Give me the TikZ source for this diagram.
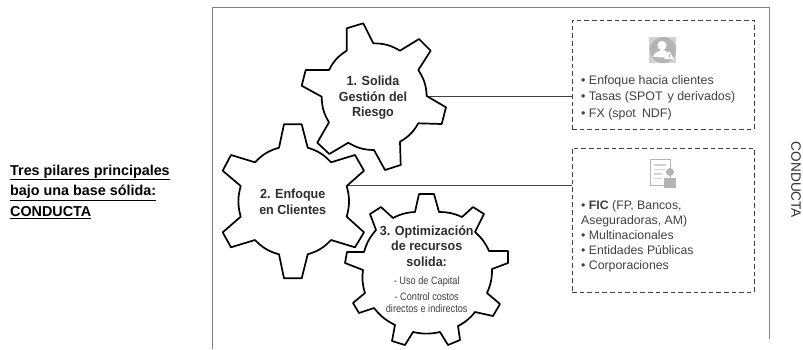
\documentclass[tikz,border=0pt]{standalone}
\usepackage{fontspec}
\setmainfont{Liberation Sans}
\newfontfamily\gearfont[FakeStretch=0.95]{Liberation Sans}
\newfontfamily\thinfont[FakeStretch=0.85]{Liberation Sans}
\definecolor{ink}{HTML}{2E2E2E}
\definecolor{soft}{HTML}{404040}
\definecolor{framegray}{HTML}{808080}
\definecolor{icongray}{HTML}{B4B4B4}
\definecolor{iconlight}{HTML}{D2D2D2}
\tikzset{
  gearline/.style={draw=black,line width=1.7pt,line join=round,fill=white},
  framerule/.style={draw=framegray,line width=1pt},
  dashbox/.style={draw=soft,line width=0.95pt,dash pattern=on 4.6pt off 3pt,minimum width=182pt,inner sep=0pt},
  linker/.style={draw=soft,line width=1pt},
  gearbig/.style={text=ink,font=\gearfont\fontsize{13.2}{15.6}\selectfont\bfseries,align=center,inner sep=0pt},
  gearsmall/.style={text=soft,font=\thinfont\fontsize{10.8}{12}\selectfont,align=center,inner sep=0pt},
  listing/.style={text=soft,align=left,inner sep=0pt,anchor=west},
  a/.style={bend left=15},
  b/.style={bend left=12}
}
\begin{document}
\begin{tikzpicture}[x=1pt,y=-1pt]
\useasboundingbox (0,0) rectangle (803,349);
% frame
\coordinate (fa) at (212,349);
\coordinate (fb) at (212,7.5);
\coordinate (fc) at (769,7.5);
\coordinate (fd) at (769,339);
\draw[framerule] (fa) -- (fb) -- (fc) -- (fd);
% left title
\node[anchor=north west,inner sep=0pt,align=left,text=black,font=\fontsize{14.35}{20.8}\selectfont\bfseries] (title) at (10,164.5)
  {\underline{Tres pilares principales}\\\underline{bajo una base sólida:}\\\underline{CONDUCTA}};
% dashed boxes
\node[dashbox,minimum height=109pt] (b1) at (663,74.5) {};
\node[dashbox,minimum height=144pt] (b2) at (663,220) {};
% connectors
\coordinate (g1p) at (427,96);
\coordinate (g2p) at (347,185.5);
\draw[linker] (g1p) -- (b1.west |- g1p);
\draw[linker] (g2p) -- (b2.west |- g2p);
% gear 1
\draw[gearline] (346.7,28.3) -- (363.3,23.3) -- (373.3,43.3) to[a] (400,50.7) -- (419,39) -- (430.7,50.7) -- (418.3,70)
  to[a] (426.7,96) -- (446,107.3) -- (441.7,124) -- (418.3,123.3)
  to[a] (400,141.7) -- (400.7,165) -- (385,170) -- (374,150)
  to[a] (348.3,142.7) -- (329.3,154) -- (317.3,142.7) -- (329,122.3)
  to[a] (321.7,96.7) -- (301.7,85.7) -- (305.7,70) -- (329,70)
  to[a] (346.7,50.7) -- cycle;
% gear 2
\draw[gearline] (284,124.3) -- (301.7,124.3) -- (307.7,147.7) to[a] (331,162.3) -- (355,155) -- (364,170.7) -- (346.7,186)
  to[a] (346.7,216.7) -- (364,232.3) -- (355,247.3) -- (331,240)
  to[a] (307.7,254.3) -- (301.7,278.3) -- (284,278.3) -- (279,254.3)
  to[a] (255,240) -- (231,247.3) -- (222.7,232.3) -- (240.7,216.7)
  to[a] (240.7,186) -- (222.7,170.7) -- (231,155) -- (255,162.3)
  to[a] (279,147.7) -- cycle;
% gear 3
\draw[gearline] (419,194) -- (434,194) -- (439,212) to[b] (462,217) -- (473,207) -- (484,214) -- (475,232)
  to[b] (489,251) -- (508,251) -- (508,263) -- (492,269)
  to[b] (487,293) -- (500,304) -- (493,316) -- (475,312)
  to[b] (458,326) -- (460,340) -- (448,345) -- (440,332)
  to[b] (413,332) -- (405,345) -- (392,341) -- (395,325)
  to[b] (374,308) -- (359,313) -- (353,303) -- (365,293)
  to[b] (363,270) -- (345,263) -- (347,252) -- (364,252)
  to[b] (376,230) -- (370,214) -- (381,207) -- (393,218)
  to[b] (415,212) -- cycle;
% gear labels
\node[gearbig] (t1) at (373,98) {1. Solida\\Gestión del\\Riesgo};
\node[gearbig] (t2) at (292.7,202) {2. Enfoque\\en Clientes};
\node[gearbig] (t3) at (426.7,246) {3. Optimización\\de recursos\\solida:};
\node[gearsmall] (t4) at (426.7,281.5) {- Uso de Capital};
\node[gearsmall] (t5) at (426.7,302.5) {- Control costos\\directos e indirectos};
% list 1
\node[listing,font=\fontsize{12.4}{16.5}\selectfont] (l1) at (581,97.5)
  {• Enfoque hacia clientes\\• Tasas (SPOT\hspace{0.4em}y derivados)\\• FX (spot\hspace{0.5em}NDF)};
% list 2
\node[listing,font=\fontsize{12.3}{15}\selectfont] (l2) at (581,236)
  {• \textbf{FIC} (FP, Bancos,\\Aseguradoras, AM)\\• Multinacionales\\• Entidades Públicas\\• Corporaciones};
% side label
\node[rotate=-90,inner sep=0pt,text=ink,font=\fontsize{13.6}{16}\selectfont] (side) at (796,180) {CONDUCTA};
% icon 1
\fill[iconlight] (649,37) rectangle (676,63);
\fill[icongray] (663,50) circle (13.2);
\fill[white] (662,45.5) circle (4.6);
\fill[white] (653,57) .. controls (654,52) and (658,52) .. (661,50) -- (664,50) .. controls (666,52) and (668,52) .. (668,53) -- (665,57.5) -- cycle;
\fill[white] (669,51) -- (674,59) -- (664,59) -- cycle;
\fill[icongray] (668.5,54) rectangle (669.5,57);
% icon 2
\draw[icongray,line width=1pt,fill=white] (650.5,159.5) rectangle (670,185);
\draw[iconlight,line width=1.5pt] (654,165) -- (666,165) (654,169.5) -- (666,169.5) (654,174) -- (662,174) (654,178.5) -- (662,178.5);
\fill[icongray] (670,172) circle (4);
\fill[icongray] (664,178) rectangle (676,187.5);
\end{tikzpicture}
\end{document}
